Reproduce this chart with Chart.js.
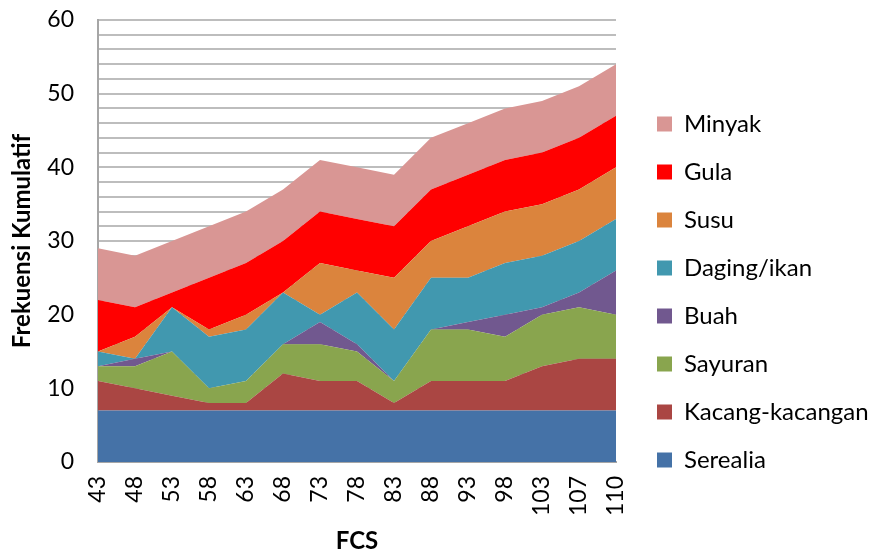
<!DOCTYPE html>
<html>
<head>
<meta charset="utf-8">
<script src="https://cdn.jsdelivr.net/npm/chart.js@4"></script>
<style>
  html, body { margin: 0; padding: 0; background: #ffffff; }
  #wrap { width: 871px; height: 556px; }
</style>
</head>
<body>
<div id="wrap"><canvas id="c" width="871" height="556"></canvas></div>
<script>
const categories = ['43','48','53','58','63','68','73','78','83','88','93','98','103','107','110'];
const serealia = [7,7,7,7,7,7,7,7,7,7,7,7,7,7,7];
const kacang   = [4,3,2,1,1,5,4,4,1,4,4,4,6,7,7];
const sayuran  = [2,3,6,2,3,4,5,4,3,7,7,6,7,7,6];
const buah     = [0,1,0,0,0,0,3,1,0,0,1,3,1,2,6];
const daging   = [2,0,6,7,7,7,1,7,7,7,6,7,7,7,7];
const susu     = [0,3,0,1,2,0,7,3,7,5,7,7,7,7,7];
const gula     = [7,4,2,7,7,7,7,7,7,7,7,7,7,7,7];
const minyak   = [7,7,7,7,7,7,7,7,7,7,7,7,7,7,7];
const seriesNames = ['Serealia','Kacang-kacangan','Sayuran','Buah','Daging/ikan','Susu','Gula','Minyak'];
const seriesValues = [serealia,kacang,sayuran,buah,daging,susu,gula,minyak];
const seriesColors = ['#4572A7','#AA4643','#89A54E','#71588F','#4198AF','#DB843D','#FF0000','#D99694'];
const yTickLabels = [0,10,20,30,40,50,60];

const FONT = 'Lato, "Open Sans", sans-serif';

const datasets = seriesNames.map((name, i) => ({
  label: name,
  data: seriesValues[i],
  backgroundColor: seriesColors[i],
  borderColor: seriesColors[i],
  borderWidth: 0,
  pointRadius: 0,
  pointHoverRadius: 0,
  tension: 0,
  fill: i === 0 ? 'origin' : '-1'
}));

const legendFix = {
  id: 'legendFix',
  afterInit(chart) {
    const lg = chart.legend;
    const orig = lg.fit.bind(lg);
    lg.fit = function () { orig(); this.width = 255; };
  },
  afterLayout(chart) {
    const lg = chart.legend;
    const dx = 657 - 24 - lg.left;
    const dy = 124 - 12 - 24 - lg.top;
    lg.left += dx; lg.right += dx;
    lg.top += dy; lg.bottom += dy;
  }
};

new Chart(document.getElementById('c'), {
  type: 'line',
  data: { labels: categories, datasets },
  plugins: [legendFix],
  options: {
    responsive: false,
    animation: false,
    layout: { padding: { top: 0, left: 0, right: 0, bottom: 0 } },
    plugins: {
      tooltip: { enabled: false },
      legend: {
        position: 'right',
        align: 'start',
        reverse: true,
        labels: {
          boxWidth: 15, boxHeight: 15, padding: 24,
          color: '#000', font: { family: FONT, size: 24 }
        }
      }
    },
    scales: {
      x: {
        offset: false,
        grid: { display: false, drawTicks: false },
        border: { color: '#a6a6a6', width: 2 },
        ticks: { color: '#000', font: { family: FONT, size: 23 }, maxRotation: 90, minRotation: 90, autoSkip: false, padding: 14 },
        title: { display: true, text: 'FCS', color: '#000', font: { family: FONT, size: 24, weight: 'bold' }, padding: { top: 0, bottom: 0 } },
        afterFit(s) { s.height = 94; }
      },
      y: {
        stacked: true,
        min: 0, max: 60,
        grid: { color: '#bdbdbd', lineWidth: 2, drawTicks: false },
        border: { color: '#a6a6a6', width: 2 },
        ticks: {
          stepSize: 2, maxTicksLimit: 40, autoSkip: false,
          color: '#000', font: { family: FONT, size: 23 }, padding: 24,
          callback: (v) => (yTickLabels.includes(v) ? String(v) : '')
        },
        title: { display: true, text: 'Frekuensi Kumulatif', color: '#000', font: { family: FONT, size: 24, weight: 'bold' }, padding: { top: 8, bottom: 0 } },
        afterFit(s) { s.width = 98; s.paddingTop = 20; s.paddingBottom = 0; }
      }
    }
  }
});
</script>
</body>
</html>
